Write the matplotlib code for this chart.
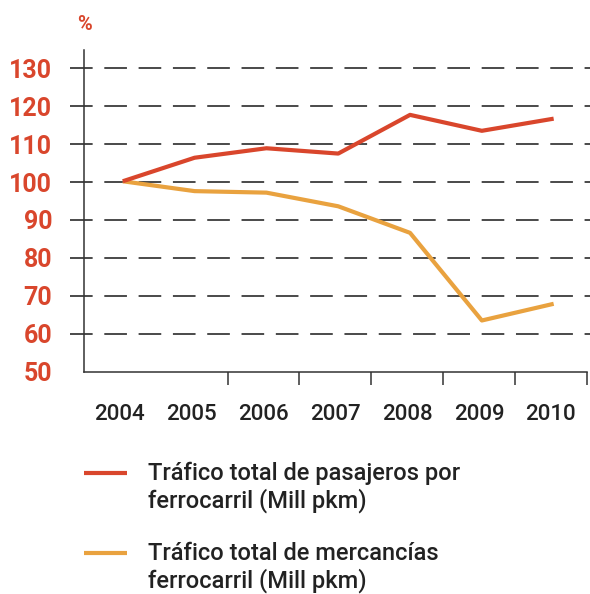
import matplotlib

matplotlib.use('Agg')

import matplotlib.pyplot as plt
from matplotlib.lines import Line2D
import numpy as np

plt.rcParams['font.family'] = ['Roboto', 'DejaVu Sans']
plt.rcParams['lines.scale_dashes'] = False

years = ['2004', '2005', '2006', '2007', '2008', '2009', '2010']
pasajeros = [100.2, 106.4, 108.9, 107.5, 117.7, 113.5, 116.7]
mercancias = [100.2, 97.6, 97.2, 93.6, 86.6, 63.5, 67.9]
yticks = [50, 60, 70, 80, 90, 100, 110, 120, 130]
labels = ['Tráfico total de pasajeros por\nferrocarril (Mill pkm)',
          'Tráfico total de mercancías\nferrocarril (Mill pkm)']

red = '#d9462c'
orange = '#e9a23f'

fig = plt.figure(figsize=(5.9, 5.94), dpi=100)
ax = fig.add_axes([84 / 590, 1 - 371.7 / 594, 502.7 / 590, 321.7 / 594])

x = np.arange(len(years))

# dashed grid, running a bit past both ends of the axis
for v in yticks[1:]:
    ax.axhline(v, xmin=-0.028, xmax=1.007, color='#4a4a4a', lw=1.4,
               dashes=(16.3, 8.4), clip_on=False, zorder=1)

ax.plot(x + 0.04, pasajeros, color=red, lw=3, solid_capstyle='butt', zorder=3)
ax.plot(x + 0.04, mercancias, color=orange, lw=3, solid_capstyle='butt', zorder=2)

ax.set_xlim(-0.5, len(years) - 0.5)
ax.set_ylim(50, 134.8)

for s in ['top', 'right']:
    ax.spines[s].set_visible(False)
for s in ['left', 'bottom']:
    ax.spines[s].set_color('#333333')
    ax.spines[s].set_linewidth(1.1)

ax.set_yticks(yticks)
ax.set_yticklabels([str(v) for v in yticks], color=red, fontsize=18,
                   fontweight='bold')
ax.tick_params(axis='y', length=0, pad=23)

ax.set_xticks(x)
ax.set_xticklabels(years, fontsize=16, color='#222222', fontweight='medium')
ax.set_xticks(x[1:] - 0.5 + 1, minor=True)
ax.tick_params(axis='x', which='major', length=0, pad=23)
ax.tick_params(axis='x', which='minor', length=9.5, width=1.1, color='#333333',
               direction='out')

fig.text(85 / 590, 1 - 24 / 594, '%', color=red, fontsize=14.5,
         fontweight='bold', ha='center', va='center')

# legend
for i, (lab, col) in enumerate(zip(labels, [red, orange])):
    yl = 473 + i * 80
    fig.add_artist(Line2D([84 / 590, 127 / 590], [1 - yl / 594, 1 - yl / 594],
                          color=col, lw=3, solid_capstyle='butt'))
    fig.text(148 / 590, 1 - (yl - 11) / 594, lab, fontsize=17, color='#222222',
             ha='left', va='top', linespacing=1.15, fontweight='medium')

fig.savefig('out.png', dpi=100)
